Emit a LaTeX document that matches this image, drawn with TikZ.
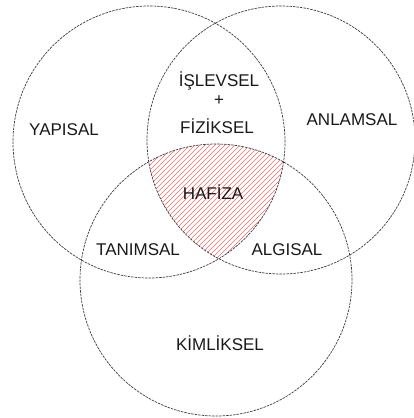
\documentclass[tikz,border=0pt]{standalone}
\usepackage{fontspec}
\setmainfont{Liberation Sans}
\usepackage{xcolor}
\usetikzlibrary{positioning}
\definecolor{vennline}{RGB}{60, 60, 60}
\definecolor{hatchred}{RGB}{240, 70, 70}

\begin{document}
\begin{tikzpicture}[x=1pt, y=-1pt,
    venn/.style={draw=vennline, line width=0.7pt, dash pattern=on 2.5pt off 1pt},
    hatch/.style={draw=hatchred!80, line width=0.6pt},
    setlabel/.style={font=\fontsize{17}{19}\selectfont, text=black!90, inner sep=0pt}]
    \useasboundingbox (0,0) rectangle (414,418);
    \coordinate (yapisal) at (149,142);
    \coordinate (anlamsal) at (281,140);
    \coordinate (kimliksel) at (216,280);

    % shaded common part
    \begin{scope}
        \clip (yapisal) circle[radius=136pt];
        \clip (anlamsal) circle[radius=134pt];
        \clip (kimliksel) circle[radius=136pt];
        \foreach \k in {-20,-15,...,260}
            \draw[hatch] (\k,300) -- ++(300,-300);
    \end{scope}

    \draw[venn] (yapisal) circle[radius=136pt];
    \draw[venn] (anlamsal) circle[radius=134pt];
    \draw[venn] (kimliksel) circle[radius=136pt];

    \node[setlabel] (yap) at (64,130) {YAPISAL};
    \node[setlabel] (anl) at (352,120) {ANLAMSAL};
    \node[setlabel] (isl) at (219,81) {İŞLEVSEL};
    \node[setlabel, below=5pt of isl] (plus) {+};
    \node[setlabel] (fiz) at (217,126) {FİZİKSEL};
    \node[setlabel] (haf) at (213,192) {HAFİZA};
    \node[setlabel] (tan) at (138,250) {TANIMSAL};
    \node[setlabel] (alg) at (287,250) {ALGISAL};
    \node[setlabel] (kim) at (220,343) {KİMLİKSEL};
\end{tikzpicture}
\end{document}
